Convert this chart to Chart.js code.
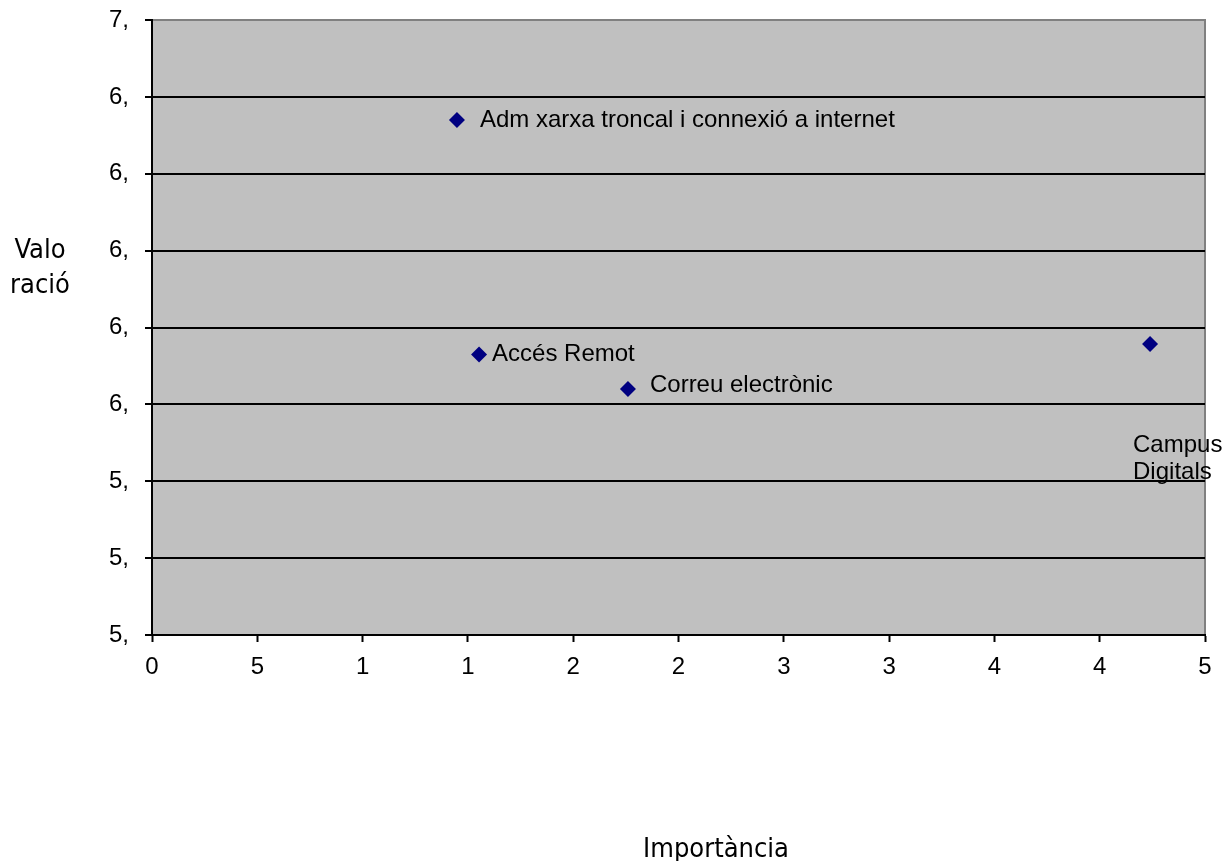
<!DOCTYPE html>
<html>
<head>
<meta charset="utf-8">
<script src="https://cdn.jsdelivr.net/npm/chart.js@4/dist/chart.umd.min.js"></script>
<style>
  body { margin: 0; background: #fff; }
  #wrap { width: 1225px; height: 861px; }
</style>
</head>
<body>
<div id="wrap"><canvas id="chart" width="1225" height="861"></canvas></div>
<script>
// dades del gràfic
const serveis = ['Adm xarxa troncal i connexió a internet', 'Accés Remot', 'Correu electrònic', 'Campus Digitals'];
const importancia = [1.448, 1.553, 2.26, 4.739];
const valoracio = [6.74, 6.13, 6.04, 6.157];
const xTickLabels = ['0', '5', '1', '1', '2', '2', '3', '3', '4', '4', '5'];
const yTickLabels = ['5,', '5,', '5,', '6,', '6,', '6,', '6,', '6,', '7,'];

// posició de les etiquetes respecte al punt (px)
const labelOffsets = [[23, 0], [13, 0], [22, -4], [-17, 101]];

const fontTicks = '24px "Liberation Sans", Arial, sans-serif';
const fontTitle = '27px "DejaVu Sans Condensed", "DejaVu Sans", sans-serif';

const areaPlugin = {
  id: 'areaPlugin',
  beforeDraw(chart) {
    const { ctx, chartArea: a } = chart;
    ctx.save();
    ctx.fillStyle = '#C0C0C0';
    ctx.fillRect(a.left, a.top, a.right - a.left, a.bottom - a.top);
    ctx.strokeStyle = '#808080';
    ctx.lineWidth = 2;
    ctx.beginPath();
    ctx.moveTo(a.left, a.top);
    ctx.lineTo(a.right, a.top);
    ctx.lineTo(a.right, a.bottom);
    ctx.stroke();
    ctx.restore();
  },
  afterDatasetsDraw(chart) {
    const { ctx } = chart;
    const meta = chart.getDatasetMeta(0);
    ctx.save();
    ctx.font = fontTicks;
    ctx.fillStyle = '#000';
    ctx.textBaseline = 'middle';
    ctx.textAlign = 'left';
    meta.data.forEach((pt, i) => {
      const off = labelOffsets[i];
      if (i === 3) {
        ctx.fillText('Campus', pt.x + off[0], pt.y + off[1]);
        ctx.fillText('Digitals', pt.x + off[0], pt.y + off[1] + 27);
      } else {
        ctx.fillText(serveis[i], pt.x + off[0], pt.y + off[1]);
      }
    });
    // títols dels eixos
    ctx.font = fontTitle;
    ctx.textAlign = 'center';
    ctx.textBaseline = 'alphabetic';
    ctx.fillText('Valo', 40, 258);
    ctx.fillText('ració', 40, 293);
    ctx.fillText('Importància', 716, 857);
    ctx.restore();
  }
};

new Chart(document.getElementById('chart'), {
  type: 'scatter',
  data: {
    datasets: [{
      data: importancia.map((x, i) => ({ x: x, y: valoracio[i] })),
      pointStyle: 'rectRot',
      pointRadius: 8,
      backgroundColor: '#000080',
      borderColor: '#000080',
      borderWidth: 0
    }]
  },
  options: {
    responsive: false,
    animation: false,
    layout: { padding: { top: 20, right: 20, left: 0, bottom: 0 } },
    plugins: { legend: { display: false }, tooltip: { enabled: false } },
    scales: {
      x: {
        type: 'linear',
        min: 0, max: 5,
        ticks: {
          stepSize: 0.5,
          color: '#000',
          font: { family: '"Liberation Sans", Arial, sans-serif', size: 24 },
          padding: 11,
          maxRotation: 0,
          autoSkip: false,
          callback: (v, i) => xTickLabels[i]
        },
        grid: { drawOnChartArea: false, tickLength: 7, tickColor: '#000', tickWidth: 2 },
        border: { color: '#000', width: 2 },
        afterFit: s => { s.height = 226; s.paddingLeft = 0; s.paddingRight = 0; }
      },
      y: {
        type: 'linear',
        min: 5.4, max: 7,
        ticks: {
          stepSize: 0.2,
          color: '#000',
          font: { family: '"Liberation Sans", Arial, sans-serif', size: 24 },
          padding: 16,
          autoSkip: false,
          callback: (v, i) => yTickLabels[i]
        },
        grid: {
          color: ctx => ctx.index === yTickLabels.length - 1 ? 'rgba(0,0,0,0)' : '#000',
          lineWidth: 2,
          tickLength: 7,
          tickColor: '#000',
          tickWidth: 2
        },
        border: { color: '#000', width: 2 },
        afterFit: s => { s.width = 152; s.paddingTop = 0; s.paddingBottom = 0; }
      }
    }
  },
  plugins: [areaPlugin]
});
</script>
</body>
</html>
